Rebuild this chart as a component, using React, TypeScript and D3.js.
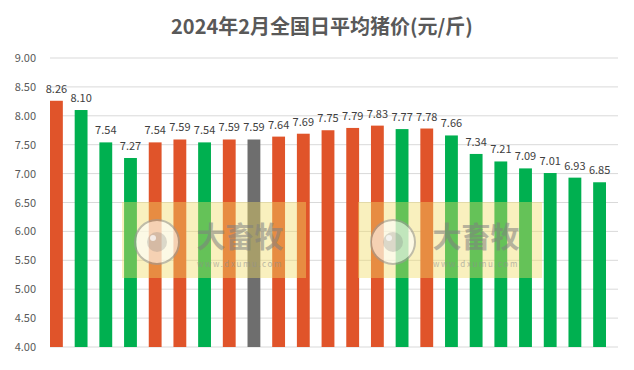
import React from 'react';
import * as d3 from 'd3';

const days = d3.range(1, 24).map((d) => `${d}`);
const prices = [
  8.26, 8.1, 7.54, 7.27, 7.54, 7.59, 7.54, 7.59, 7.59, 7.64, 7.69, 7.75, 7.79, 7.83, 7.77, 7.78, 7.66,
  7.34, 7.21, 7.09, 7.01, 6.93, 6.85,
];
// up = higher than the day before, down = lower, flat = unchanged
const trend = [
  'up', 'down', 'down', 'down', 'up', 'up', 'down', 'up', 'flat', 'up', 'up', 'up', 'up', 'up', 'down',
  'up', 'down', 'down', 'down', 'down', 'down', 'down', 'down',
];
const yTicks = d3.range(4, 9.01, 0.5);

const colors: Record<string, string> = { up: '#E0542A', down: '#00B050', flat: '#6E6E6E' };
const font = '"Noto Sans CJK SC", "Noto Sans", sans-serif';

const W = 634;
const H = 370;

function Watermark({ x, y }: { x: number; y: number }) {
  return (
    <g transform={`translate(${x},${y})`}>
      <rect x={0} y={0} width={184} height={76} fill="#f0dc64" opacity={0.42} />
      <circle cx={35} cy={40} r={22} fill="#ffffff" opacity={0.6} stroke="#9a9a9a" strokeWidth={2} />
      <circle cx={35} cy={40} r={10} fill="#777" opacity={0.25} />
      <circle cx={31} cy={36} r={3} fill="#fff" opacity={0.7} />
      <text
        x={118}
        y={46}
        textAnchor="middle"
        fontFamily={font}
        fontWeight={700}
        fontSize={29}
        fill="#808080"
        opacity={0.55}
      >
        大畜牧
      </text>
      <text
        x={118}
        y={65}
        textAnchor="middle"
        fontFamily={font}
        fontSize={8}
        letterSpacing={1.6}
        fill="#909090"
        opacity={0.6}
      >
        www.dxumu.com
      </text>
    </g>
  );
}

export default function App() {
  const x = d3.scaleBand<string>().domain(days).range([50, 606]).paddingInner(0.48).paddingOuter(0);
  const y = d3.scaleLinear().domain([4, 9]).range([347, 58]);

  return (
    <svg
      width={W}
      height={H}
      style={{ position: 'absolute', left: 0, top: 0, background: '#fff' }}
    >
      <text
        x={322}
        y={34}
        textAnchor="middle"
        fontFamily={font}
        fontWeight={700}
        fontSize={20}
        fill="#595959"
      >
        2024年2月全国日平均猪价(元/斤)
      </text>

      {yTicks.map((t) => (
        <g key={t}>
          <line x1={50} x2={618} y1={y(t)} y2={y(t)} stroke="#d9d9d9" strokeWidth={1} />
          <text
            x={36}
            y={y(t) + 4}
            textAnchor="end"
            fontFamily={font}
            fontSize={11}
            fill="#595959"
          >
            {t.toFixed(2)}
          </text>
        </g>
      ))}

      {prices.map((v, i) => (
        <rect
          key={i}
          x={x(days[i])}
          y={y(v)}
          width={x.bandwidth()}
          height={y(4) - y(v)}
          fill={colors[trend[i]]}
        />
      ))}

      {prices.map((v, i) => (
        <text
          key={i}
          x={(x(days[i]) ?? 0) + x.bandwidth() / 2}
          y={y(v) - 8}
          textAnchor="middle"
          fontFamily={font}
          fontSize={11}
          fill="#404040"
        >
          {v.toFixed(2)}
        </text>
      ))}

      <Watermark x={122} y={202} />
      <Watermark x={358} y={202} />
    </svg>
  );
}
